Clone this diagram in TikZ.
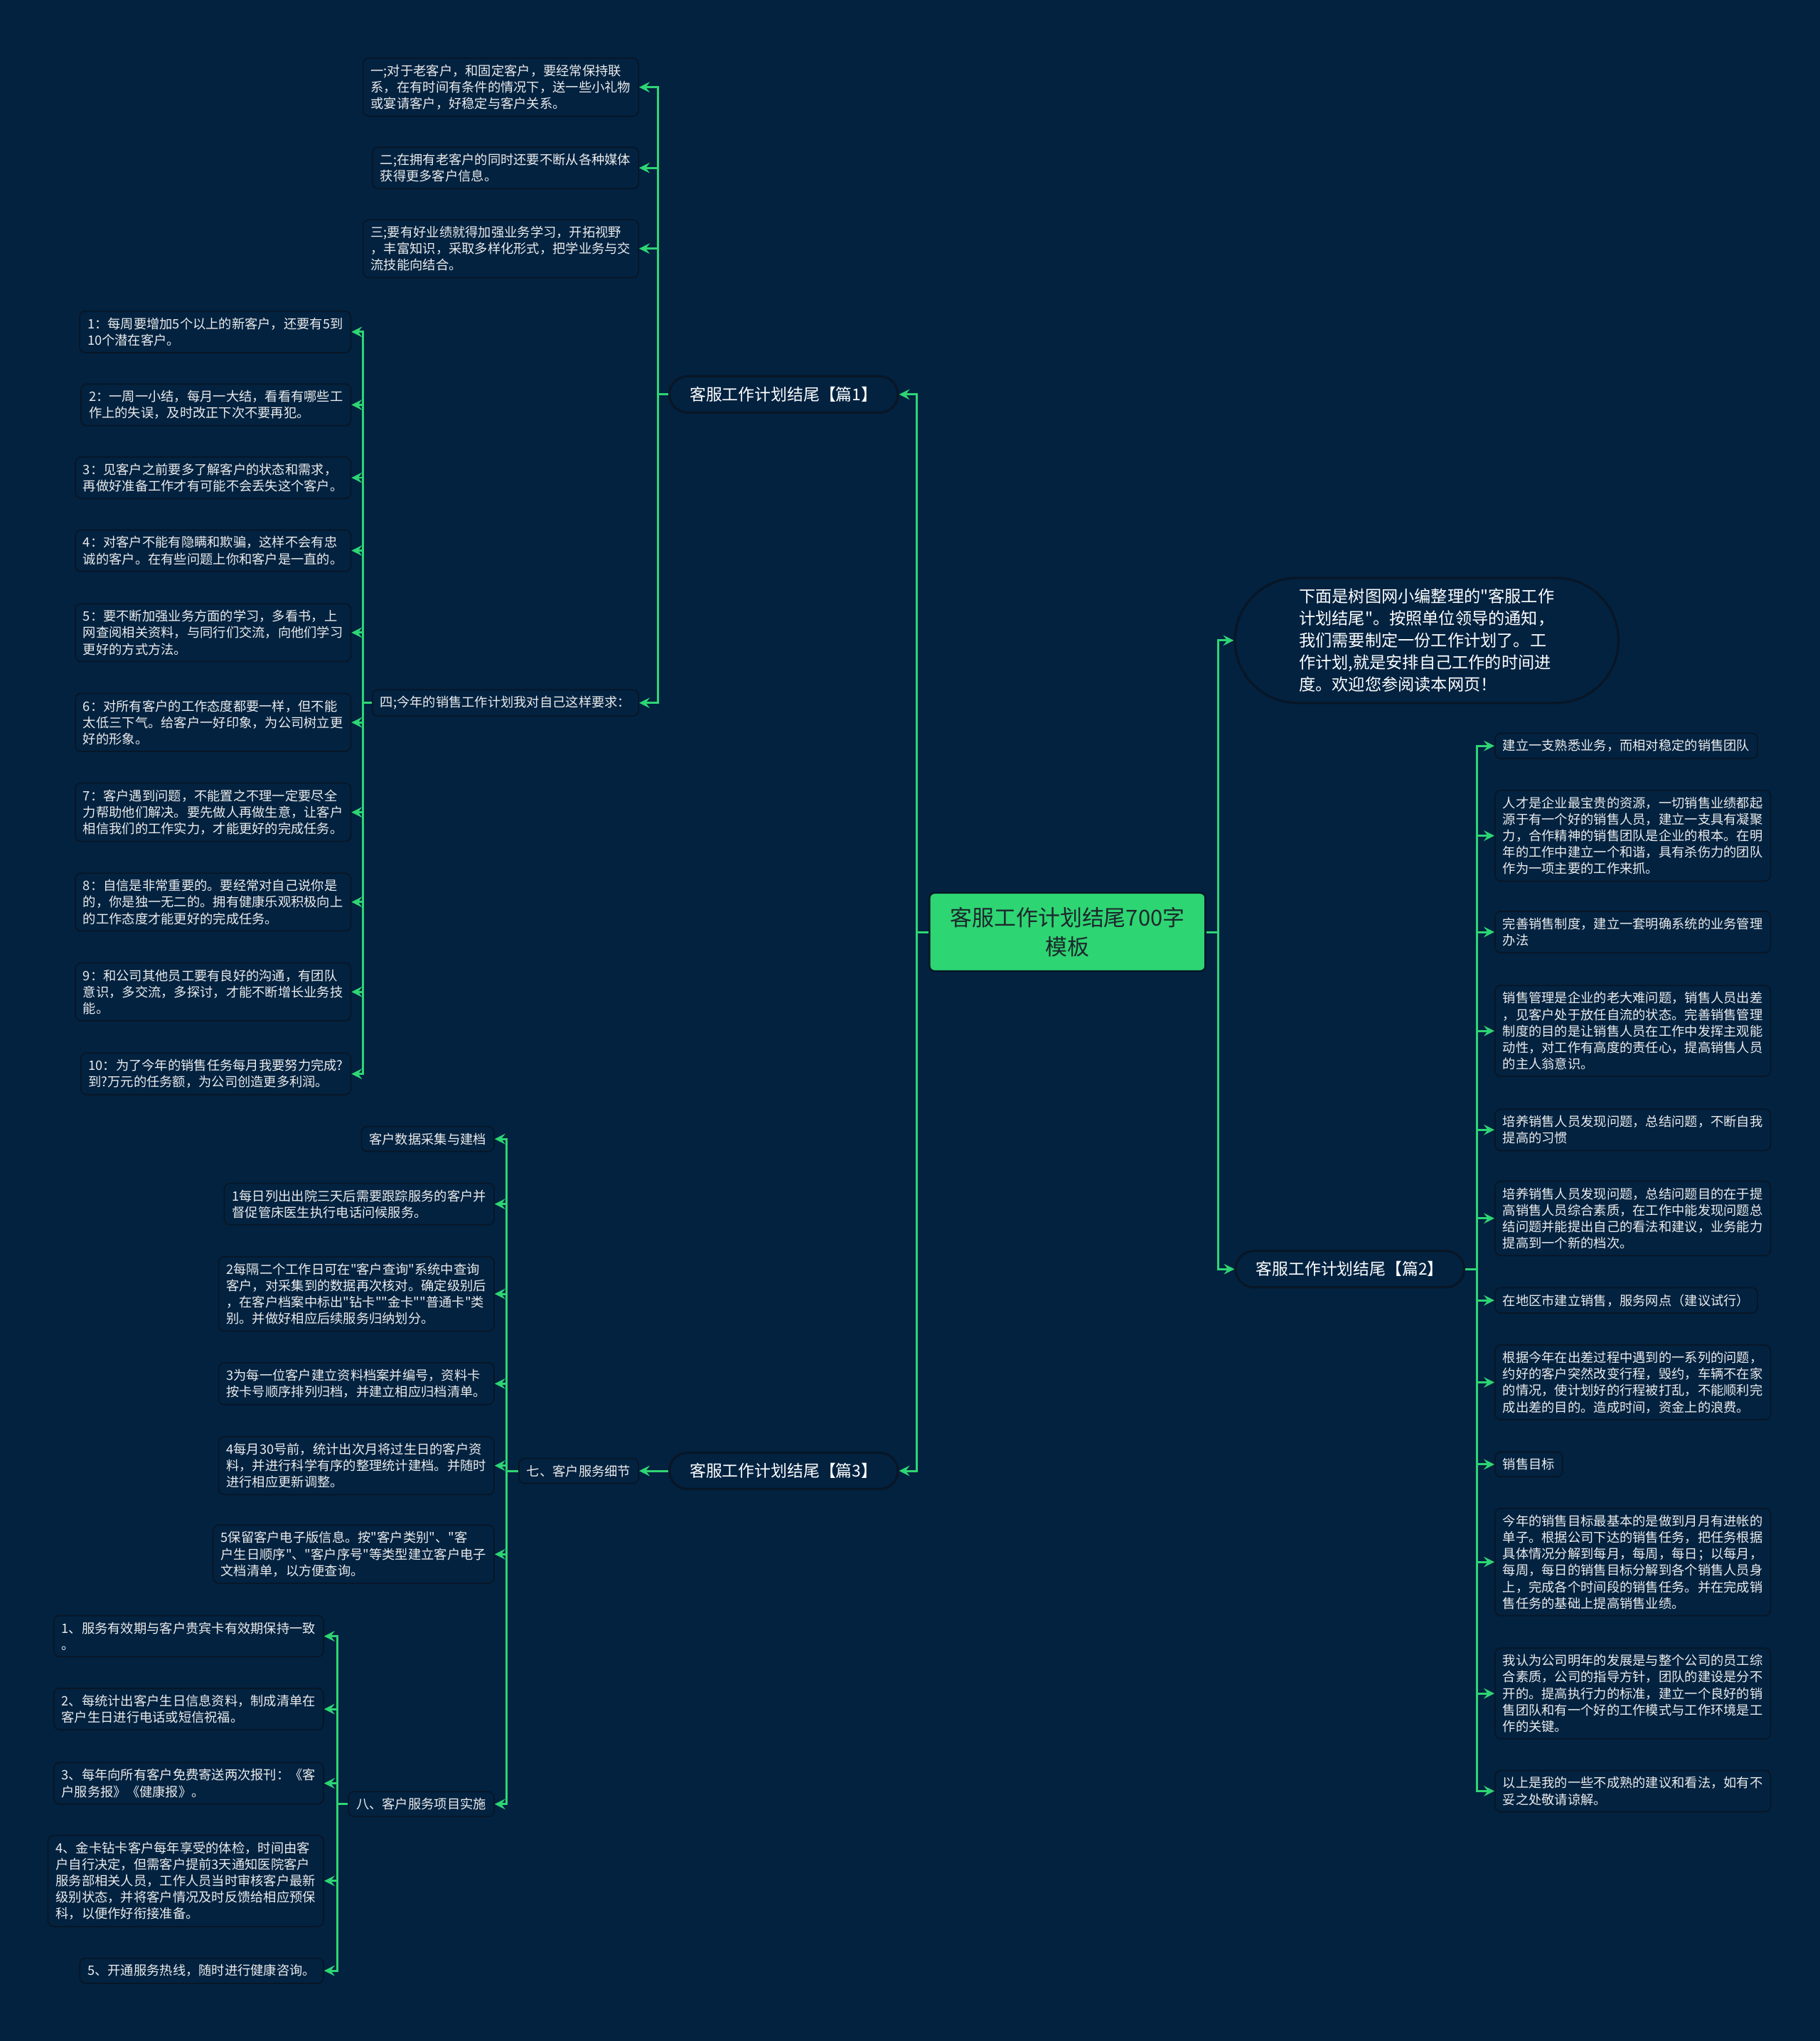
\documentclass[tikz,border=0pt]{standalone}
\usepackage{fontspec}
\setmainfont{Noto Sans CJK SC}[Ligatures=TeXOff]
\usepackage{xcolor}
\usepackage{tikz}
\usetikzlibrary{shapes.misc}

\definecolor{bgnavy}{RGB}{2,34,64}
\definecolor{linkgreen}{RGB}{46,213,115}
\definecolor{boxedge}{RGB}{8,22,38}
\definecolor{leaftext}{RGB}{236,236,236}
\definecolor{roottext}{RGB}{28,40,44}

\newcommand\leaffont{\fontsize{5.2pt}{6.6pt}\selectfont}
\newcommand\topicfont{\fontsize{6.5pt}{8pt}\selectfont}
\newcommand\introfont{\fontsize{6.6pt}{8.8pt}\selectfont}
\newcommand\rootfont{\fontsize{8.8pt}{11.5pt}\selectfont}

\begin{document}
\begin{tikzpicture}[x=0.018312cm, y=-0.018312cm,
  leaf/.style={draw=boxedge, fill=bgnavy, rounded corners=0.08cm, text=leaftext, align=left, font=\leaffont, inner xsep=0.11cm, inner ysep=0.09cm, line width=0.5pt},
  topic/.style={rounded rectangle, draw=boxedge, fill=bgnavy, text=white, font=\topicfont, line width=0.9pt, minimum width=3.45cm, minimum height=0.51cm, inner ysep=0.05cm},
  link/.style={draw=linkgreen, line width=0.85pt, -stealth}]

  \fill[bgnavy] (0,0) rectangle (1398,1568);
  \useasboundingbox (0,0) rectangle (1398,1568);

  % Root
  \node[draw=boxedge, fill=linkgreen, text=roottext, rounded corners=0.07cm, minimum width=3.88cm, minimum height=1.1cm, align=center, font=\rootfont, line width=0.7pt] (root) at (820,716) {客服工作计划结尾700字\\模板};

  % Right side
  \node[topic, font=\introfont, align=left, minimum width=5.63cm, minimum height=1.76cm] (intro) at (1096,492) {下面是树图网小编整理的"客服工作\\计划结尾"。按照单位领导的通知，\\我们需要制定一份工作计划了。工\\作计划,就是安排自己工作的时间进\\度。欢迎您参阅读本网页！};
  \node[topic] (p2) at (1037,975) {客服工作计划结尾【篇2】};

  \node[leaf, anchor=west] (r1) at (1148,573) {建立一支熟悉业务，而相对稳定的销售团队};
  \node[leaf, anchor=west] (r2) at (1148,642) {人才是企业最宝贵的资源，一切销售业绩都起\\源于有一个好的销售人员，建立一支具有凝聚\\力，合作精神的销售团队是企业的根本。在明\\年的工作中建立一个和谐，具有杀伤力的团队\\作为一项主要的工作来抓。};
  \node[leaf, anchor=west] (r3) at (1148,716) {完善销售制度，建立一套明确系统的业务管理\\办法};
  \node[leaf, anchor=west] (r4) at (1148,792) {销售管理是企业的老大难问题，销售人员出差\\，见客户处于放任自流的状态。完善销售管理\\制度的目的是让销售人员在工作中发挥主观能\\动性，对工作有高度的责任心，提高销售人员\\的主人翁意识。};
  \node[leaf, anchor=west] (r5) at (1148,868) {培养销售人员发现问题，总结问题，不断自我\\提高的习惯};
  \node[leaf, anchor=west] (r6) at (1148,936) {培养销售人员发现问题，总结问题目的在于提\\高销售人员综合素质，在工作中能发现问题总\\结问题并能提出自己的看法和建议，业务能力\\提高到一个新的档次。};
  \node[leaf, anchor=west] (r7) at (1148,999) {在地区市建立销售，服务网点（建议试行）};
  \node[leaf, anchor=west] (r8) at (1148,1062) {根据今年在出差过程中遇到的一系列的问题，\\约好的客户突然改变行程，毁约，车辆不在家\\的情况，使计划好的行程被打乱，不能顺利完\\成出差的目的。造成时间，资金上的浪费。};
  \node[leaf, anchor=west] (r9) at (1148,1125) {销售目标};
  \node[leaf, anchor=west] (r10) at (1148,1200) {今年的销售目标最基本的是做到月月有进帐的\\单子。根据公司下达的销售任务，把任务根据\\具体情况分解到每月，每周，每日；以每月，\\每周，每日的销售目标分解到各个销售人员身\\上，完成各个时间段的销售任务。并在完成销\\售任务的基础上提高销售业绩。};
  \node[leaf, anchor=west] (r11) at (1148,1301) {我认为公司明年的发展是与整个公司的员工综\\合素质，公司的指导方针，团队的建设是分不\\开的。提高执行力的标准，建立一个良好的销\\售团队和有一个好的工作模式与工作环境是工\\作的关键。};
  \node[leaf, anchor=west] (r12) at (1148,1376) {以上是我的一些不成熟的建议和看法，如有不\\妥之处敬请谅解。};

  % Left side, part 1
  \node[topic] (p1) at (602,303) {客服工作计划结尾【篇1】};
  \node[leaf, anchor=east] (m1) at (491,67) {一;对于老客户，和固定客户，要经常保持联\\系，在有时间有条件的情况下，送一些小礼物\\或宴请客户，好稳定与客户关系。};
  \node[leaf, anchor=east] (m2) at (491,129) {二;在拥有老客户的同时还要不断从各种媒体\\获得更多客户信息。};
  \node[leaf, anchor=east] (m3) at (491,191) {三;要有好业绩就得加强业务学习，开拓视野\\，丰富知识，采取多样化形式，把学业务与交\\流技能向结合。};
  \node[leaf, anchor=east] (m4) at (491,540) {四;今年的销售工作计划我对自己这样要求：};

  \node[leaf, anchor=east] (n1) at (270,255) {1：每周要增加5个以上的新客户，还要有5到\\10个潜在客户。};
  \node[leaf, anchor=east] (n2) at (270,311) {2：一周一小结，每月一大结，看看有哪些工\\作上的失误，及时改正下次不要再犯。};
  \node[leaf, anchor=east] (n3) at (270,367) {3：见客户之前要多了解客户的状态和需求，\\再做好准备工作才有可能不会丢失这个客户。};
  \node[leaf, anchor=east] (n4) at (270,423) {4：对客户不能有隐瞒和欺骗，这样不会有忠\\诚的客户。在有些问题上你和客户是一直的。};
  \node[leaf, anchor=east] (n5) at (270,486) {5：要不断加强业务方面的学习，多看书，上\\网查阅相关资料，与同行们交流，向他们学习\\更好的方式方法。};
  \node[leaf, anchor=east] (n6) at (270,555) {6：对所有客户的工作态度都要一样，但不能\\太低三下气。给客户一好印象，为公司树立更\\好的形象。};
  \node[leaf, anchor=east] (n7) at (270,624) {7：客户遇到问题，不能置之不理一定要尽全\\力帮助他们解决。要先做人再做生意，让客户\\相信我们的工作实力，才能更好的完成任务。};
  \node[leaf, anchor=east] (n8) at (270,693) {8：自信是非常重要的。要经常对自己说你是\\的，你是独一无二的。拥有健康乐观积极向上\\的工作态度才能更好的完成任务。};
  \node[leaf, anchor=east] (n9) at (270,762) {9：和公司其他员工要有良好的沟通，有团队\\意识，多交流，多探讨，才能不断增长业务技\\能。};
  \node[leaf, anchor=east] (n10) at (270,825) {10：为了今年的销售任务每月我要努力完成?\\到?万元的任务额，为公司创造更多利润。};

  % Left side, part 3
  \node[topic] (p3) at (602,1130) {客服工作计划结尾【篇3】};
  \node[leaf, anchor=east] (q7) at (491,1130) {七、客户服务细节};
  \node[leaf, anchor=east] (s0) at (380,875) {客户数据采集与建档};
  \node[leaf, anchor=east] (s1) at (380,925) {1每日列出出院三天后需要跟踪服务的客户并\\督促管床医生执行电话问候服务。};
  \node[leaf, anchor=east] (s2) at (380,994) {2每隔二个工作日可在"客户查询"系统中查询\\客户，对采集到的数据再次核对。确定级别后\\，在客户档案中标出"钻卡""金卡""普通卡"类\\别。并做好相应后续服务归纳划分。};
  \node[leaf, anchor=east] (s3) at (380,1063) {3为每一位客户建立资料档案并编号，资料卡\\按卡号顺序排列归档，并建立相应归档清单。};
  \node[leaf, anchor=east] (s4) at (380,1126) {4每月30号前，统计出次月将过生日的客户资\\料，并进行科学有序的整理统计建档。并随时\\进行相应更新调整。};
  \node[leaf, anchor=east] (s5) at (380,1194) {5保留客户电子版信息。按"客户类别"、"客\\户生日顺序"、"客户序号"等类型建立客户电子\\文档清单，以方便查询。};
  \node[leaf, anchor=east] (q8) at (380,1386) {八、客户服务项目实施};

  \node[leaf, anchor=east] (t1) at (249,1257) {1、服务有效期与客户贵宾卡有效期保持一致\\。};
  \node[leaf, anchor=east] (t2) at (249,1313) {2、每统计出客户生日信息资料，制成清单在\\客户生日进行电话或短信祝福。};
  \node[leaf, anchor=east] (t3) at (249,1370) {3、每年向所有客户免费寄送两次报刊：《客\\户服务报》《健康报》。};
  \node[leaf, anchor=east] (t4) at (249,1445) {4、金卡钻卡客户每年享受的体检，时间由客\\户自行决定，但需客户提前3天通知医院客户\\服务部相关人员，工作人员当时审核客户最新\\级别状态，并将客户情况及时反馈给相应预保\\科，以便作好衔接准备。};
  \node[leaf, anchor=east] (t5) at (249,1514) {5、开通服务热线，随时进行健康咨询。};

  % Connections
  \draw[link] (root.east) -- ++(9,0) |- (intro.west);
  \draw[link] (root.east) -- ++(9,0) |- (p2.west);
  \foreach \k in {r1,r2,r3,r4,r5,r6,r7,r8,r9,r10,r11,r12}
    \draw[link] (p2.east) -- ++(9,0) |- (\k.west);

  \draw[link] (root.west) -- ++(-9,0) |- (p1.east);
  \draw[link] (root.west) -- ++(-9,0) |- (p3.east);
  \foreach \k in {m1,m2,m3,m4}
    \draw[link] (p1.west) -- ++(-8,0) |- (\k.east);
  \foreach \k in {n1,n2,n3,n4,n5,n6,n7,n8,n9,n10}
    \draw[link] (m4.west) -- ++(-7,0) |- (\k.east);

  \draw[link] (p3.west) -- (q7.east);
  \foreach \k in {s0,s1,s2,s3,s4,s5,q8}
    \draw[link] (q7.west) -- ++(-9,0) |- (\k.east);
  \foreach \k in {t1,t2,t3,t4,t5}
    \draw[link] (q8.west) -- ++(-8,0) |- (\k.east);
\end{tikzpicture}
\end{document}
